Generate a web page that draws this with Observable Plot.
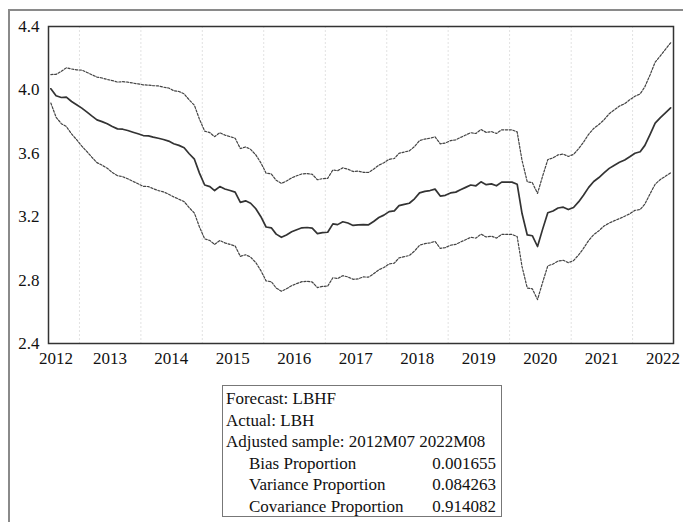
<!DOCTYPE html>
<html><head><meta charset="utf-8">
<script src="https://cdn.jsdelivr.net/npm/d3@7"></script>
<script src="https://cdn.jsdelivr.net/npm/@observablehq/plot@0.6"></script>
<style>
body{margin:0;background:#fff;}
#wrap{position:relative;width:683px;height:522px;overflow:hidden;font-family:"Liberation Serif","Times New Roman",serif;color:#111;}
#outer{position:absolute;left:8px;top:9px;width:690px;height:530px;border-left:2px solid #8a8a8a;border-top:2px solid #8a8a8a;pointer-events:none;z-index:2;}
#chart{position:absolute;left:0;top:0;}
#stats{position:absolute;left:222px;top:385px;width:280px;height:132px;border:1.5px solid #777;box-sizing:border-box;padding-top:2px;font-size:17px;}
#stats .row{display:flex;justify-content:space-between;height:21.6px;line-height:21.6px;padding-left:3px;padding-right:5px;white-space:nowrap;}
#stats .row.ind{padding-left:26px;}
</style>
</head><body>
<div id="wrap"><div id="outer"></div><div id="chart"></div><div id="stats"></div></div>
<script>
// Forecast LBHF, monthly 2012M07 .. 2022M08
const startMonth = "2012-07";
const forecast = [
 4.007,3.963,3.952,3.954,3.927,3.906,3.885,3.860,3.836,3.811,
 3.800,3.786,3.769,3.754,3.752,3.744,3.733,3.723,3.712,3.710,
 3.702,3.695,3.687,3.677,3.660,3.650,3.635,3.597,3.563,3.475,
 3.400,3.390,3.365,3.390,3.375,3.365,3.355,3.290,3.300,3.285,
 3.250,3.200,3.135,3.130,3.090,3.070,3.085,3.105,3.118,3.130,
 3.132,3.128,3.093,3.100,3.102,3.155,3.150,3.168,3.160,3.145,
 3.148,3.150,3.149,3.170,3.195,3.210,3.232,3.237,3.270,3.278,
 3.285,3.313,3.350,3.360,3.365,3.374,3.330,3.335,3.350,3.355,
 3.370,3.385,3.400,3.395,3.420,3.402,3.407,3.395,3.418,3.418,
 3.418,3.405,3.220,3.085,3.080,3.012,3.120,3.225,3.236,3.255,
 3.260,3.245,3.258,3.295,3.335,3.385,3.422,3.447,3.476,3.505,
 3.525,3.543,3.558,3.578,3.600,3.610,3.650,3.720,3.790,3.825,
 3.855,3.887
];
// +/- 2 S.E. half-width of the band
const band = [
 0.090,0.135,0.165,0.185,0.205,0.220,0.240,0.250,0.260,0.270,
 0.275,0.280,0.290,0.295,0.300,0.305,0.310,0.315,0.320,0.320,
 0.325,0.330,0.330,0.335,0.335,0.340,0.340,0.340,0.340,0.340,
 0.340,0.340,0.340,0.340,0.340,0.340,0.340,0.340,0.340,0.340,
 0.340,0.340,0.340,0.340,0.340,0.340,0.340,0.340,0.340,0.340,
 0.340,0.340,0.340,0.340,0.340,0.340,0.340,0.340,0.340,0.340,
 0.340,0.330,0.330,0.330,0.330,0.330,0.330,0.330,0.330,0.330,
 0.330,0.330,0.330,0.330,0.330,0.330,0.330,0.330,0.330,0.330,
 0.330,0.330,0.330,0.330,0.330,0.330,0.330,0.330,0.330,0.330,
 0.330,0.330,0.335,0.335,0.335,0.335,0.335,0.335,0.335,0.335,
 0.335,0.335,0.335,0.335,0.335,0.335,0.335,0.335,0.335,0.345,
 0.350,0.355,0.355,0.360,0.360,0.365,0.370,0.375,0.385,0.390,
 0.400,0.410
];
const yTicks = [2.4, 2.8, 3.2, 3.6, 4.0, 4.4];
const xTickLabels = ["2012","2013","2014","2015","2016","2017","2018","2019","2020","2021","2022"];
const gridYears = [2013,2014,2015,2016,2017,2018,2019,2020,2021,2022];
const tableLabels = ["Forecast: LBHF","Actual: LBH","Adjusted sample: 2012M07 2022M08","Bias Proportion","Variance Proportion","Covariance Proportion"];
const tableValues = ["","","","0.001655","0.084263","0.914082"];

const start = d3.utcParse("%Y-%m")(startMonth);
const rows = forecast.map((v, i) => ({
  date: d3.utcDay.offset(d3.utcMonth.offset(start, i), 14),
  f: v, hi: v + band[i], lo: v - band[i]
}));
const domainEnd = d3.utcMonth.offset(start, forecast.length);
const tickDates = xTickLabels.map(y => y === "2012" ? new Date(Date.UTC(2012, 7, 15)) : new Date(Date.UTC(+y, 6, 1)));
const tickMap = new Map(tickDates.map((d, i) => [+d, xTickLabels[i]]));
const gridDates = gridYears.map(y => new Date(Date.UTC(y, 0, 1)));

const plot = Plot.plot({
  width: 683, height: 372,
  marginLeft: 48, marginRight: 10, marginTop: 26, marginBottom: 29,
  style: {fontFamily: '"Liberation Serif","Times New Roman",serif', fontSize: "17px", background: "transparent", color: "#111", overflow: "visible"},
  x: {type: "utc", domain: [start, domainEnd]},
  y: {domain: [2.4, 4.4]},
  marks: [
    Plot.ruleX(gridDates, {stroke: "#e2e2e2", strokeWidth: 1, strokeDasharray: "2,2"}),
    Plot.line(rows, {x: "date", y: "hi", stroke: "#444", strokeWidth: 1.2, strokeDasharray: "2.2,1.6"}),
    Plot.line(rows, {x: "date", y: "lo", stroke: "#444", strokeWidth: 1.2, strokeDasharray: "2.2,1.6"}),
    Plot.line(rows, {x: "date", y: "f", stroke: "#333", strokeWidth: 1.7}),
    Plot.frame({stroke: "#333", strokeWidth: 1.5}),
    Plot.axisY({ticks: yTicks, tickSize: 0, tickPadding: 9, tickFormat: d3.format(".1f"), label: null, fontSize: 17}),
    Plot.axisX({ticks: tickDates, tickSize: 0, tickPadding: 8, tickFormat: d => tickMap.get(+d), label: null, fontSize: 17})
  ]
});
document.getElementById("chart").appendChild(plot);

const stats = document.getElementById("stats");
tableLabels.forEach((lab, i) => {
  const r = document.createElement("div");
  r.className = "row" + (i >= 3 ? " ind" : "");
  const a = document.createElement("span"); a.textContent = lab;
  const b = document.createElement("span"); b.textContent = tableValues[i];
  r.appendChild(a); r.appendChild(b);
  stats.appendChild(r);
});
</script>
</body></html>
